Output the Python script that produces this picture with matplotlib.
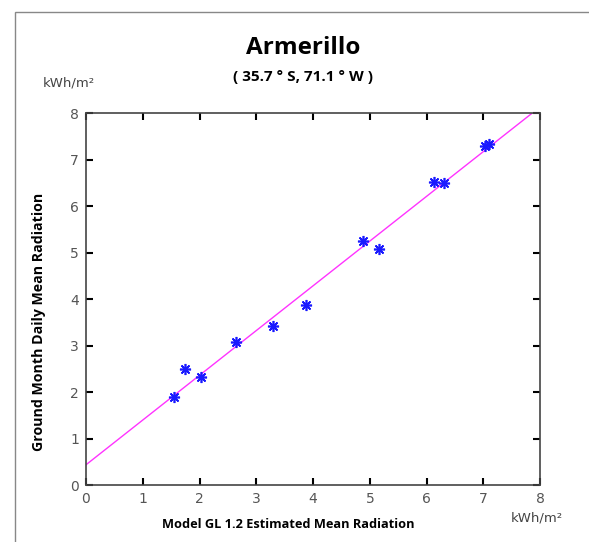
import numpy as np
import matplotlib
matplotlib.use('Agg')
import matplotlib.pyplot as plt
from matplotlib.patches import Rectangle

# model estimate vs ground measurement (kWh/m2)
model_est = [1.55, 1.75, 2.02, 2.65, 3.30, 3.88, 4.88, 5.17, 6.13, 6.30, 7.03, 7.10]
ground = [1.90, 2.50, 2.32, 3.07, 3.42, 3.87, 5.25, 5.07, 6.53, 6.51, 7.30, 7.33]
ticks = [0, 1, 2, 3, 4, 5, 6, 7, 8]

slope, icpt = np.polyfit(model_est, ground, 1)
xfit = np.array([0, 8])

fig = plt.figure(figsize=(5.89, 5.42), dpi=100)
ax = fig.add_axes([0.146, 0.105, 0.771, 0.686])

ax.plot(xfit, slope * xfit + icpt, color='#ff33ff', lw=1)
ax.plot(model_est, ground, ls='none', marker=(8, 2, 0), ms=8, mew=1.2, color='#1a1aff')

ax.set_xlim(0, 8)
ax.set_ylim(0, 8)
ax.set_xticks(ticks)
ax.set_yticks(ticks)
ax.tick_params(direction='in', top=True, right=True, length=5, labelsize=10,
               labelcolor='#555555', width=1.5, pad=5)
for sp in ax.spines.values():
    sp.set_color('#444444')
    sp.set_linewidth(1.2)

fig.text(0.515, 0.911, 'Armerillo', ha='center', va='center', fontsize=17.5,
         fontweight='bold', family='Open Sans')
fig.text(0.515, 0.858, '( 35.7 ° S, 71.1 ° W )', ha='center', va='center', fontsize=11,
         fontweight='bold', family='Open Sans')
fig.text(0.116, 0.847, 'kWh/m²', ha='center', va='center', fontsize=9.5, color='#444444')
fig.text(0.912, 0.044, 'kWh/m²', ha='center', va='center', fontsize=9.5, color='#444444')
fig.text(0.49, 0.033, 'Model GL 1.2 Estimated Mean Radiation', ha='center', va='center',
         fontsize=9.2, fontweight='bold', family='Open Sans')
fig.text(0.066, 0.406, 'Ground Month Daily Mean Radiation', ha='center', va='center',
         rotation=90, fontsize=10.2, fontweight='bold', family='Open Sans')

fig.patches.append(Rectangle((0.0255, -0.05), 1.0, 1.028, transform=fig.transFigure,
                             fill=False, edgecolor='#888888', lw=1))

fig.savefig('out.png', dpi=100)
